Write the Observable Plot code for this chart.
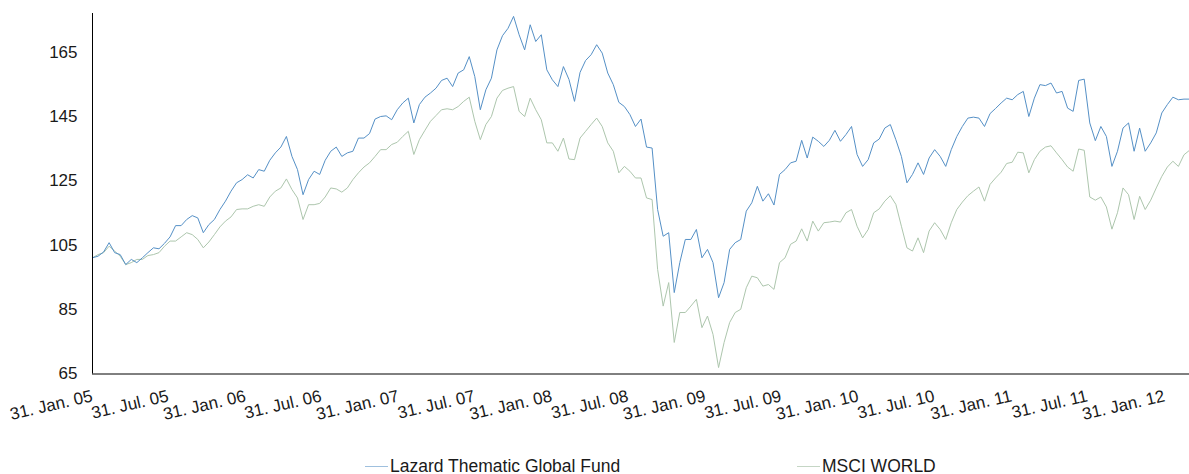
<!DOCTYPE html>
<html>
<head>
<meta charset="utf-8">
<script src="https://cdn.jsdelivr.net/npm/d3@7"></script>
<script src="https://cdn.jsdelivr.net/npm/@observablehq/plot@0.6"></script>
<style>
  body { margin: 0; background: #fff; font-family: "Liberation Sans", Arial, sans-serif; }
  #chart { position: relative; width: 1189px; height: 474px; overflow: hidden; }
  .legend { position: relative; height: 24px; font-size: 17.5px; color: #1a1a1a; }
  .item { position: absolute; top: 0; height: 24px; display: flex; align-items: center; white-space: nowrap; }
  .swatch { width: 23px; height: 1px; margin-right: 2px; }
</style>
</head>
<body>
<div id="chart"></div>
<script>
// ---- data, regular samples from start to end ----
const startDate = "2005-01-31";
const endDate = "2012-03-30";
const seriesNames = ["Lazard Thematic Global Fund", "MSCI WORLD"];

const lazard = [
  101.1, 101.6, 102.9, 105.8, 102.7, 102.1, 99.0, 100.6, 99.6, 101.1,
  102.7, 104.2, 103.9, 105.6, 107.6, 111.1, 111.1, 113.0, 114.2, 113.5,
  108.9, 111.4, 113.0, 116.1, 118.7, 121.8, 124.4, 125.4, 126.9, 125.9,
  128.5, 128.0, 131.4, 133.7, 135.5, 138.8, 132.6, 128.5, 120.7, 125.4,
  128.0, 127.0, 131.4, 134.2, 135.5, 132.6, 133.7, 134.2, 138.3, 138.3,
  139.7, 144.2, 145.0, 145.2, 144.0, 147.1, 149.2, 150.7, 143.0, 148.7,
  151.0, 152.3, 153.8, 156.2, 156.9, 154.3, 158.5, 159.5, 163.6, 157.4,
  147.1, 153.3, 156.9, 165.7, 170.1, 172.4, 176.1, 170.4, 165.7, 173.5,
  168.3, 170.4, 159.5, 156.4, 154.3, 160.5, 156.5, 149.7, 158.7, 162.4,
  164.2, 167.3, 164.7, 158.5, 154.9, 149.4, 148.1, 145.6, 141.9, 144.2,
  135.5, 135.2, 116.1, 107.8, 108.9, 90.3, 99.6, 106.8, 106.8, 109.9,
  101.1, 103.7, 99.6, 88.7, 93.4, 103.7, 105.8, 106.8, 115.6, 118.2,
  123.3, 118.7, 121.0, 117.5, 127.0, 128.5, 130.6, 131.1, 137.6, 132.1,
  138.6, 137.3, 135.7, 137.6, 140.7, 137.3, 139.4, 141.9, 133.2, 129.5,
  131.6, 136.8, 138.0, 141.4, 142.5, 137.8, 132.6, 124.4, 127.0, 130.6,
  127.0, 132.1, 134.7, 132.6, 129.5, 134.7, 138.8, 141.9, 144.5, 144.8,
  144.5, 141.9, 145.9, 147.5, 149.2, 150.7, 150.2, 151.8, 152.8, 145.0,
  150.7, 154.9, 154.6, 155.4, 152.3, 152.8, 147.6, 146.6, 156.2, 156.6,
  143.0, 137.5, 141.9, 138.8, 129.5, 134.2, 141.4, 143.0, 134.2, 141.4,
  134.2, 136.8, 139.9, 146.1, 148.7, 151.0, 150.2, 150.4, 150.4
];

const msci = [
  101.1, 102.1, 102.7, 104.7, 103.2, 101.6, 99.0, 99.6, 100.6, 100.6,
  101.8, 102.1, 102.7, 104.7, 106.3, 106.3, 107.6, 108.9, 108.3, 106.8,
  104.2, 106.0, 108.3, 110.7, 112.5, 113.8, 116.1, 116.3, 116.3, 117.1,
  117.6, 117.1, 120.0, 121.8, 122.8, 125.6, 122.3, 119.7, 113.0, 117.6,
  117.6, 118.0, 120.0, 122.8, 122.5, 121.5, 122.8, 125.4, 127.5, 129.3,
  130.6, 132.6, 134.7, 134.7, 136.3, 137.0, 138.8, 140.4, 133.2, 137.8,
  140.7, 143.5, 145.3, 147.1, 147.4, 147.1, 148.1, 149.7, 151.0, 143.5,
  137.8, 142.5, 145.0, 150.7, 153.1, 153.8, 154.3, 146.6, 145.0, 150.7,
  147.1, 144.0, 136.8, 136.8, 134.2, 138.3, 131.8, 131.6, 138.3, 140.4,
  142.5, 144.5, 141.9, 136.8, 134.2, 127.5, 129.5, 128.0, 125.9, 125.9,
  119.7, 119.2, 97.5, 86.1, 93.4, 74.8, 84.1, 84.1, 86.1, 88.2,
  79.4, 83.0, 77.3, 67.0, 74.8, 81.0, 84.1, 85.1, 91.8, 95.4,
  94.9, 92.3, 92.8, 91.3, 99.6, 101.1, 105.3, 106.3, 110.1, 106.3,
  112.5, 109.4, 112.0, 112.2, 112.5, 112.2, 115.1, 116.1, 110.9, 107.3,
  109.9, 115.1, 116.3, 118.7, 120.4, 117.7, 110.9, 104.2, 103.2, 107.3,
  102.7, 109.4, 112.0, 109.9, 106.8, 112.0, 116.1, 118.4, 120.4, 121.8,
  123.1, 118.7, 123.9, 125.9, 127.7, 130.4, 130.8, 133.9, 133.7, 127.5,
  131.6, 134.2, 135.5, 135.9, 133.7, 131.6, 129.3, 128.0, 134.9, 134.5,
  120.0, 119.0, 120.0, 116.9, 110.0, 115.1, 122.8, 120.7, 113.0, 120.2,
  116.1, 119.0, 122.8, 126.4, 129.3, 131.1, 129.5, 133.1, 134.5
];

const tickDates = [
  "2005-01-31", "2005-07-31", "2006-01-31", "2006-07-31", "2007-01-31", "2007-07-31",
  "2008-01-31", "2008-07-31", "2009-01-31", "2009-07-31", "2010-01-31", "2010-07-31",
  "2011-01-31", "2011-07-31", "2012-01-31"
];
const tickLabels = [
  "31. Jan. 05", "31. Jul. 05", "31. Jan. 06", "31. Jul. 06", "31. Jan. 07", "31. Jul. 07",
  "31. Jan. 08", "31. Jul. 08", "31. Jan. 09", "31. Jul. 09", "31. Jan. 10", "31. Jul. 10",
  "31. Jan. 11", "31. Jul. 11", "31. Jan. 12"
];
const yTicks = [65, 85, 105, 125, 145, 165];

// ---- styling ----
const colors = ["#5590c6", "#adc6ad"];
const legendColors = ["#9fc0de", "#c5d6c5"];

const t0 = new Date(startDate), t1 = new Date(endDate);
const sampleTime = d3.scaleLinear().domain([0, lazard.length - 1]).range([+t0, +t1]);
const toRows = (vals, name) => vals.map((v, i) => ({ date: new Date(sampleTime(i)), value: v, series: name }));
const lazRows = toRows(lazard, seriesNames[0]);
const msciRows = toRows(msci, seriesNames[1]);
const ticks = tickDates.map((d, i) => ({ date: new Date(d), label: tickLabels[i] }));

const svg = Plot.plot({
  width: 1189,
  height: 454,
  marginLeft: 92,
  marginRight: 0,
  marginTop: 13,
  marginBottom: 80.5,
  style: { fontFamily: "Liberation Sans, Arial, sans-serif", fontSize: "17px", color: "#1a1a1a", background: "#fff", overflow: "visible" },
  x: { type: "utc", domain: [t0, t1], axis: null },
  y: { domain: [65, 177], ticks: yTicks, tickSize: 0, tickPadding: 15, label: null, tickFormat: d => String(d) },
  marks: [
    Plot.lineY(msciRows, { x: "date", y: "value", stroke: colors[1], strokeWidth: 1 }),
    Plot.lineY(lazRows, { x: "date", y: "value", stroke: colors[0], strokeWidth: 1 }),
    Plot.ruleX([t0], { stroke: "#000", strokeWidth: 1 }),
    Plot.ruleY([65], { stroke: "#000", strokeWidth: 1 }),
    Plot.text(ticks, { x: "date", text: "label", frameAnchor: "bottom", rotate: -13, textAnchor: "end", dy: 27, dx: 1, fontSize: 17, fill: "#1a1a1a" })
  ]
});
svg.style.display = "block";

const chart = document.getElementById("chart");
chart.appendChild(svg);

const legend = document.createElement("div");
legend.className = "legend";
const legendX = [365, 797];
seriesNames.forEach((name, i) => {
  const item = document.createElement("div");
  item.className = "item";
  item.style.left = legendX[i] + "px";
  const sw = document.createElement("span");
  sw.className = "swatch";
  sw.style.background = legendColors[i];
  const tx = document.createElement("span");
  tx.textContent = name;
  item.appendChild(sw);
  item.appendChild(tx);
  legend.appendChild(item);
});
chart.appendChild(legend);
</script>
</body>
</html>
